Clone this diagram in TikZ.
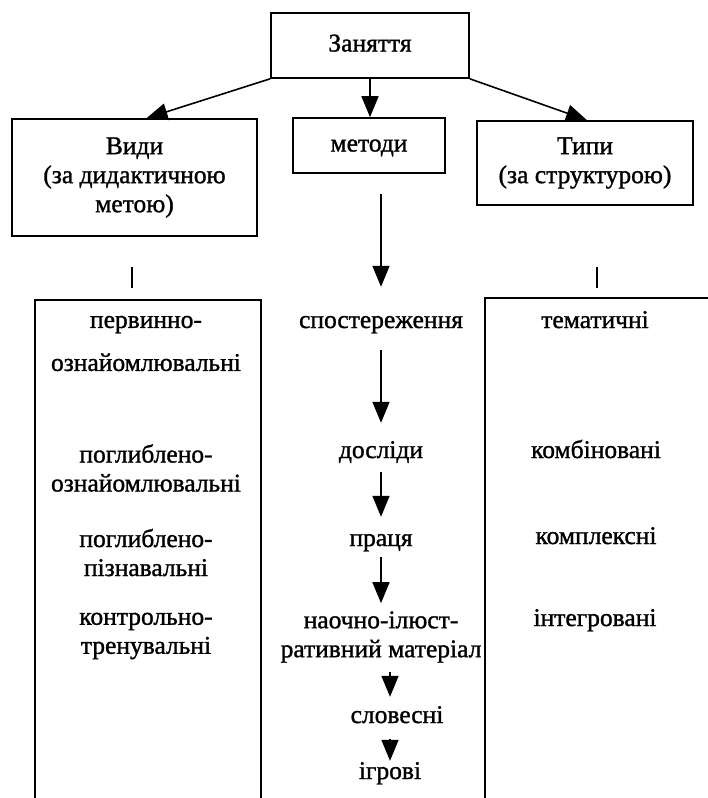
\documentclass[tikz,border=0pt]{standalone}
\usepackage{fontspec}
\setmainfont{Liberation Serif}[FakeBold=1.2]
\newfontfamily\scanfont{Liberation Serif}[FakeBold=1.2]
\usetikzlibrary{arrows.meta}
\begin{document}
\begin{tikzpicture}[x=1pt,y=-1pt,
  box/.style={draw, line width=1.6pt, inner sep=0pt, align=center, font=\scanfont\fontsize{25.5}{29}\selectfont},
  box1/.style={box, text height=17pt, text depth=5pt},
  txt/.style={inner sep=0pt, align=center, text height=17pt, text depth=5pt, font=\scanfont\fontsize{25.5}{29}\selectfont},
  txtm/.style={inner sep=0pt, align=center, font=\scanfont\fontsize{25.5}{29}\selectfont},
  arr/.style={line width=1.6pt, -{Triangle[width=17pt,length=21pt]}},
  ln/.style={line width=1.6pt}]
\useasboundingbox (0,0) rectangle (708,798);
\fill[white] (0,0) rectangle (708,798);
% upper boxes
\node[box1, minimum width=198pt, minimum height=65pt] (zan) at (370,45.5) {Заняття};
\node[box, minimum width=245pt, minimum height=117pt] (vid) at (134.5,177.5) {Види\\(за дидактичною\\метою)};
\node[box1, minimum width=152pt, minimum height=55pt] (met) at (369,145.5) {методи};
\node[box, minimum width=216pt, minimum height=84pt] (typ) at (585,163) {Типи\\(за структурою)};
% arrows from top
\draw[arr] (zan.south west) -- ([xshift=12pt]vid.north);
\draw[arr] (zan.south) -- (zan.south |- met.north);
\draw[arr] (zan.south east) -- ([xshift=2pt]typ.north);
% lower frames
\draw[ln] (35,798) -- (35,300) -- (261,300) -- (261,798);
\draw[ln] (485,798) -- (485,298) -- (708,298);
% ticks
\coordinate (t1a) at (132,267); \coordinate (t1b) at (132,288);
\coordinate (t2a) at (597,267); \coordinate (t2b) at (597,288);
\draw[ln] (t1a) -- (t1b);
\draw[ln] (t2a) -- (t2b);
% left column
\node[txtm] (l1) at (146,343.5) {первинно-\\[14pt]ознайомлювальні};
\node[txtm] (l2) at (146,468) {поглиблено-\\ознайомлювальні};
\node[txtm] (l3) at (146,552.5) {поглиблено-\\пізнавальні};
\node[txtm] (l4) at (146,636) {контрольно-\\тренувальні};
% middle column
\node[txt] (m1) at (381,322) {спостереження};
\node[txt] (m2) at (381,452) {досліди};
\node[txt] (m3) at (381,540) {праця};
\node[txtm] (m4) at (381,637) {наочно-ілюст-\\ративний матеріал};
\node[txt] (m5) at (397,717) {словесні};
\node[txt] (m6) at (390,773) {ігрові};
% right column
\node[txt] (r1) at (595,322) {тематичні};
\node[txt] (r2) at (596,452) {комбіновані};
\node[txt] (r3) at (596,538) {комплексні};
\node[txt] (r4) at (595,620) {інтегровані};
% middle arrows
\draw[arr, shorten <=20pt, shorten >=24pt] (met.south -| m1.north) -- (m1.north);
\draw[arr, shorten <=17pt, shorten >=18pt] (m1.south) -- (m2.north);
\draw[arr, shorten <=9pt, shorten >=12pt] (m2.south) -- (m3.north);
\draw[arr, shorten <=6pt, shorten >=8pt] (m3.south) -- (m4.north);
\draw[arr, shorten <=9pt, shorten >=9pt] (m4.south -| m6.north) -- (m5.north -| m6.north);
\draw[arr, shorten <=11pt, shorten >=1pt] (m5.south -| m6.north) -- (m6.north);
\end{tikzpicture}
\end{document}
